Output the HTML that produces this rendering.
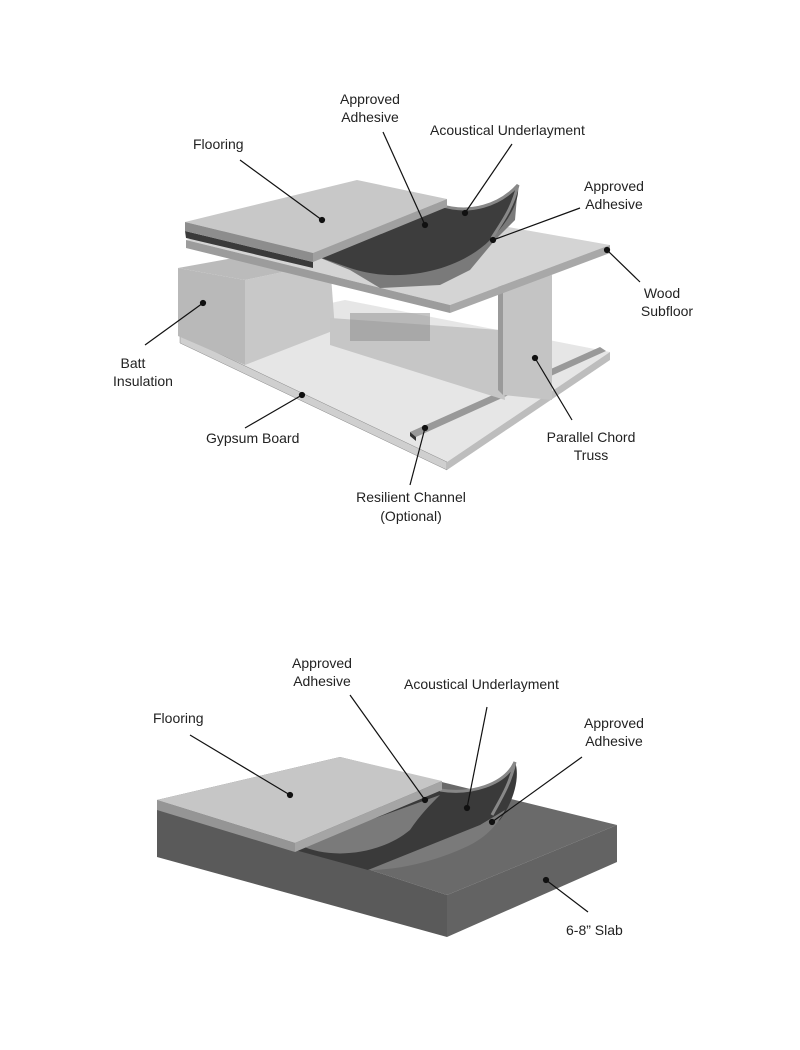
<!DOCTYPE html>
<html><head><meta charset="utf-8"><style>
html,body{margin:0;padding:0;background:#fff;width:800px;height:1050px;overflow:hidden}
text{font-family:"Liberation Sans",sans-serif;font-size:14px;fill:#222}
</style></head><body>
<svg width="800" height="1050" viewBox="0 0 800 1050" xmlns="http://www.w3.org/2000/svg">
<!-- TOP DIAGRAM -->
<polygon points="180,335 345,300 610,352 447,462" fill="#e6e6e6"/>
<polygon points="180,335 447,462 447,470 180,343" fill="#cfcfcf" stroke="#888" stroke-width="0.5"/>
<polygon points="447,462 610,352 610,360 447,470" fill="#bdbdbd"/>
<polygon points="178,268 245,280 245,365 178,336" fill="#b9b9b9"/>
<polygon points="245,280 330,262 335,330 245,365" fill="#c8c8c8"/>
<polygon points="178,268 250,255 330,262 245,280" fill="#bbb"/>
<polygon points="410,432 600,347 606,351 416,437" fill="#999"/>
<polygon points="410,432 416,437 416,441 410,436" fill="#333"/>
<polygon points="330,318 500,330 505,400 330,345" fill="#c6c6c6"/>
<rect x="350" y="313" width="80" height="28" fill="#8a8a8a" opacity="0.5"/>
<polygon points="503,280 552,275 552,400 503,395" fill="#c4c4c4"/>
<polygon points="503,280 503,395 498,390 498,282" fill="#9a9a9a"/>
<!-- subfloor -->
<polygon points="186,240 355,200 610,245 450,305" fill="#d4d4d4"/>
<polygon points="186,240 450,305 450,313 186,248" fill="#9c9c9c"/>
<polygon points="450,305 610,245 610,253 450,313" fill="#a8a8a8"/>
<!-- underlayment / adhesive -->
<polygon points="313,255 420,228 465,215 500,205 518,185 515,220 495,240 470,270 440,285 380,288 350,270" fill="#7a7a7a"/>
<path d="M350,268 C400,285 460,270 490,240 C510,220 520,200 518,185 C500,205 470,212 440,205 L313,255 Z" fill="#3d3d3d"/>
<path d="M440,205 C470,215 500,205 518,185 C512,210 500,225 492,238" fill="none" stroke="#888" stroke-width="3"/>
<!-- flooring -->
<polygon points="185,222 357,180 447,199 313,253" fill="#c8c8c8"/>
<polygon points="185,231 313,262 313,268 186,238" fill="#3a3a3a"/>
<polygon points="185,222 313,253 313,262 185,231" fill="#8d8d8d"/>
<polygon points="313,253 447,199 447,207 313,262" fill="#a0a0a0"/>
<g stroke="#111" stroke-width="1.2" fill="#111">
<line x1="240" y1="160" x2="322" y2="220"/><circle cx="322" cy="220" r="2.5"/>
<line x1="383" y1="132" x2="425" y2="225"/><circle cx="425" cy="225" r="2.5"/>
<line x1="512" y1="144" x2="465" y2="213"/><circle cx="465" cy="213" r="2.5"/>
<line x1="580" y1="208" x2="493" y2="240"/><circle cx="493" cy="240" r="2.5"/>
<line x1="640" y1="282" x2="607" y2="250"/><circle cx="607" cy="250" r="2.5"/>
<line x1="145" y1="345" x2="203" y2="303"/><circle cx="203" cy="303" r="2.5"/>
<line x1="245" y1="428" x2="302" y2="395"/><circle cx="302" cy="395" r="2.5"/>
<line x1="572" y1="420" x2="535" y2="358"/><circle cx="535" cy="358" r="2.5"/>
<line x1="410" y1="485" x2="425" y2="428"/><circle cx="425" cy="428" r="2.5"/>
</g>
<text x="370" y="104" text-anchor="middle">Approved</text>
<text x="370" y="122" text-anchor="middle">Adhesive</text>
<text x="430" y="135">Acoustical Underlayment</text>
<text x="193" y="149">Flooring</text>
<text x="614" y="191" text-anchor="middle">Approved</text>
<text x="614" y="209" text-anchor="middle">Adhesive</text>
<text x="662" y="298" text-anchor="middle">Wood</text>
<text x="667" y="316" text-anchor="middle">Subfloor</text>
<text x="133" y="368" text-anchor="middle">Batt</text>
<text x="143" y="386" text-anchor="middle">Insulation</text>
<text x="206" y="443">Gypsum Board</text>
<text x="591" y="442" text-anchor="middle">Parallel Chord</text>
<text x="591" y="460" text-anchor="middle">Truss</text>
<text x="411" y="502" text-anchor="middle">Resilient Channel</text>
<text x="411" y="521" text-anchor="middle">(Optional)</text>

<!-- BOTTOM DIAGRAM -->
<polygon points="157,800 340,757 617,825 447,895" fill="#6a6a6a"/>
<polygon points="157,800 447,895 447,937 157,857" fill="#5a5a5a"/>
<polygon points="447,895 617,825 617,862 447,937" fill="#636363"/>
<path d="M295,850 L368,870 C420,855 470,840 500,820 C515,800 520,775 515,762 C500,785 470,795 440,790 L300,845 Z" fill="#3a3a3a"/>
<path d="M300,845 C330,860 380,855 410,830 C420,815 430,805 440,795 L300,845 Z" fill="#7a7a7a"/>
<path d="M368,870 C410,870 450,855 470,845 C490,835 500,820 505,810 L480,825 Z" fill="#7a7a7a"/>
<path d="M440,790 C470,795 505,785 515,762 C510,785 500,800 492,815" fill="none" stroke="#888" stroke-width="3"/>
<polygon points="157,800 340,757 442,781 295,843" fill="#c6c6c6"/>
<polygon points="157,800 295,843 295,852 157,810" fill="#959595"/>
<polygon points="295,843 442,781 442,790 295,852" fill="#a5a5a5"/>
<g stroke="#111" stroke-width="1.2" fill="#111">
<line x1="190" y1="735" x2="290" y2="795"/><circle cx="290" cy="795" r="2.5"/>
<line x1="350" y1="695" x2="425" y2="800"/><circle cx="425" cy="800" r="2.5"/>
<line x1="487" y1="707" x2="467" y2="808"/><circle cx="467" cy="808" r="2.5"/>
<line x1="582" y1="757" x2="492" y2="822"/><circle cx="492" cy="822" r="2.5"/>
<line x1="588" y1="912" x2="546" y2="880"/><circle cx="546" cy="880" r="2.5"/>
</g>
<text x="322" y="668" text-anchor="middle">Approved</text>
<text x="322" y="686" text-anchor="middle">Adhesive</text>
<text x="404" y="689">Acoustical Underlayment</text>
<text x="153" y="723">Flooring</text>
<text x="614" y="728" text-anchor="middle">Approved</text>
<text x="614" y="746" text-anchor="middle">Adhesive</text>
<text x="566" y="935">6-8” Slab</text>
</svg>
</body></html>
